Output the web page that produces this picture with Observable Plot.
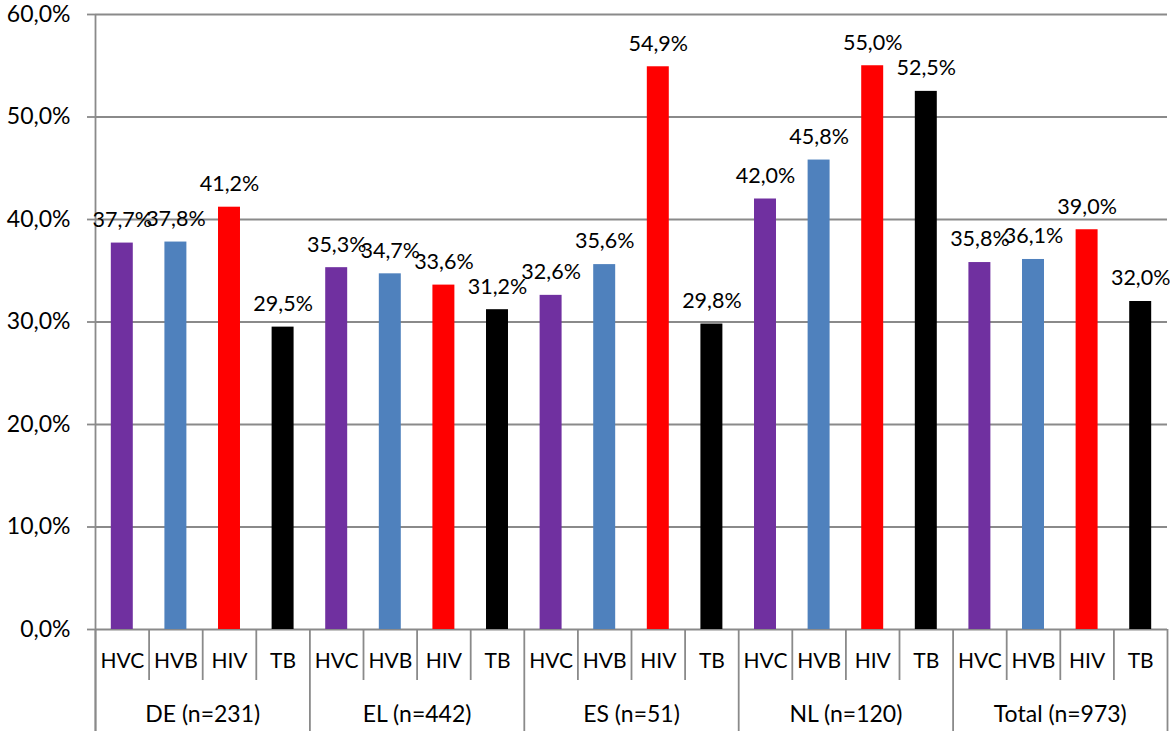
<!DOCTYPE html>
<html>
<head>
<meta charset="utf-8">
<script src="https://cdn.jsdelivr.net/npm/d3@7"></script>
<script src="https://cdn.jsdelivr.net/npm/@observablehq/plot@0.6"></script>
<style>
  html, body { margin: 0; padding: 0; background: #fff; }
  svg { display: block; }
</style>
</head>
<body>
<div id="chart"></div>
<script>
const groups = ["DE (n=231)", "EL (n=442)", "ES (n=51)", "NL (n=120)", "Total (n=973)"];
const series = ["HVC", "HVB", "HIV", "TB"];
const colors = ["#7030A0", "#4F81BD", "#FF0000", "#000000"];
const HVC = [37.7, 35.3, 32.6, 42.0, 35.8];
const HVB = [37.8, 34.7, 35.6, 45.8, 36.1];
const HIV = [41.2, 33.6, 54.9, 55.0, 39.0];
const TB  = [29.5, 31.2, 29.8, 52.5, 32.0];
const yTicks = [0, 10, 20, 30, 40, 50, 60];

const valuesBySeries = [HVC, HVB, HIV, TB];
const rows = [];
groups.forEach((g, gi) => {
  series.forEach((s, si) => {
    rows.push({group: g, series: s, value: valuesBySeries[si][gi], idx: gi * series.length + si});
  });
});
const n = rows.length;
const groupRows = groups.map((g, gi) => ({group: g, center: gi * series.length + series.length / 2}));
const groupBounds = d3.range(0, n + 1, series.length);
const barBounds = d3.range(0, n + 1).filter(i => i % series.length !== 0);

const width = 1170, height = 731;
const marginTop = 14, marginBottom = 102, marginLeft = 95, marginRight = 3;
const frameH = height - marginTop - marginBottom;
const fmt = v => v.toFixed(1).replace(".", ",") + "%";
const font = "Lato, 'Open Sans', sans-serif";
const lineColor = "#8a8a8a";
const lw = 1.8;
const barPad = 0.295;

const chart = Plot.plot({
  width, height, marginTop, marginBottom, marginLeft, marginRight,
  style: {fontFamily: font, fontSize: "21px", color: "#000", background: "#fff", overflow: "visible"},
  x: {type: "linear", domain: [0, n], axis: null},
  y: {domain: [0, 60], axis: null},
  color: {domain: series, range: colors},
  marks: [
    Plot.ruleY(yTicks, {stroke: lineColor, strokeWidth: lw}),
    Plot.axisY({ticks: yTicks, tickSize: 8, tickPadding: 17, tickFormat: fmt, stroke: lineColor, strokeWidth: lw, fontSize: 23, fill: "#000", label: null}),
    Plot.ruleX([0], {stroke: lineColor, strokeWidth: lw, insetBottom: -marginBottom}),
    Plot.rectY(rows, {x1: d => d.idx + barPad, x2: d => d.idx + 1 - barPad, y: "value", fill: "series"}),
    Plot.text(rows, {x: d => d.idx + 0.5, y: "value", text: d => fmt(d.value), dy: -23, fontSize: 21.5, fill: "#000"}),
    Plot.ruleX(groupBounds, {stroke: lineColor, strokeWidth: lw, insetTop: frameH, insetBottom: -marginBottom}),
    Plot.ruleX(barBounds, {stroke: lineColor, strokeWidth: lw, insetTop: frameH, insetBottom: -51}),
    Plot.text(rows, {x: d => d.idx + 0.5, y: 0, text: "series", dy: 32, fontSize: 21, fill: "#000"}),
    Plot.text(groupRows, {x: "center", y: 0, text: "group", dy: 85, fontSize: 23, fill: "#000"})
  ]
});
document.getElementById("chart").appendChild(chart);
</script>
</body>
</html>
